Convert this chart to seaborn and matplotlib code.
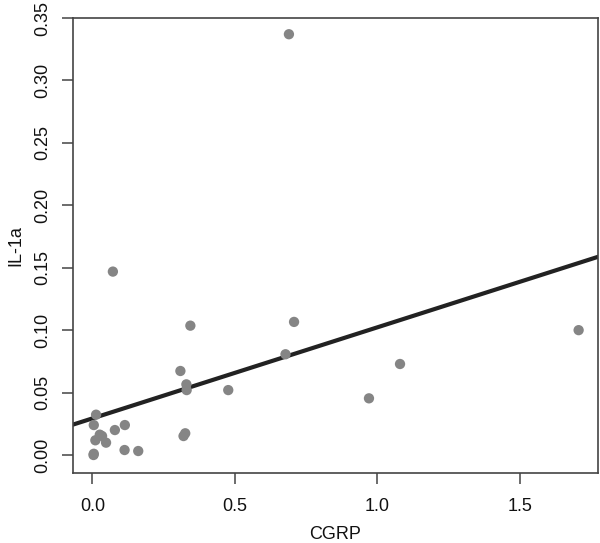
import matplotlib
matplotlib.use("Agg")
import matplotlib.pyplot as plt
import seaborn as sns
import pandas as pd

# values
cgrp = [0.013, 0.005, 0.026, 0.034, 0.0105, 0.048, 0.079, 0.114, 0.113, 0.161,
        0.005, 0.004, 0.326, 0.320, 0.309, 0.330, 0.331, 0.477, 0.708, 0.678,
        1.080, 0.971, 0.072, 0.344, 1.707, 0.690]
il1a = [0.0323, 0.024, 0.0163, 0.0152, 0.0118, 0.0099, 0.020, 0.024, 0.004, 0.0032,
        0.001, 0.0, 0.0174, 0.0152, 0.0673, 0.0566, 0.052, 0.052, 0.1066, 0.0807,
        0.0729, 0.0454, 0.1469, 0.1036, 0.100, 0.337]

x_ticks = [0.0, 0.5, 1.0, 1.5]
y_ticks = [0.00, 0.05, 0.10, 0.15, 0.20, 0.25, 0.30, 0.35]

df = pd.DataFrame({"CGRP": cgrp, "IL-1a": il1a})

sns.set_theme(style="white")
plt.rcParams["font.family"] = ["Liberation Sans", "DejaVu Sans"]

fig = plt.figure(figsize=(6.0, 5.43), dpi=100)
ax = fig.add_axes([73 / 600, 70 / 543, 525 / 600, 455 / 543])

sns.scatterplot(data=df, x="CGRP", y="IL-1a", ax=ax, color="#858585",
                s=55, edgecolor="none", zorder=3)
ax.set_xlim(-0.068, 1.775)
ax.set_ylim(-0.0144, 0.35)
sns.regplot(data=df, x="CGRP", y="IL-1a", ax=ax, scatter=False, ci=None,
            truncate=False, color="#222222", line_kws={"linewidth": 3})

ax.set_xlim(-0.068, 1.775)
ax.set_ylim(-0.0144, 0.35)
ax.set_xticks(x_ticks)
ax.set_xticklabels([f"{v:.1f}" for v in x_ticks])
ax.set_yticks(y_ticks)
ax.set_yticklabels([f"{v:.2f}" for v in y_ticks])

for side in ["left", "bottom", "top", "right"]:
    ax.spines[side].set_visible(True)
    ax.spines[side].set_color("#444444")
    ax.spines[side].set_linewidth(1.2)

ax.tick_params(axis="both", direction="out", length=8, width=1.1,
               color="#444444", labelsize=13, labelcolor="#111111",
               bottom=True, left=True)
ax.tick_params(axis="x", pad=10)
ax.tick_params(axis="y", pad=8, labelrotation=90)
for lab in ax.get_yticklabels():
    lab.set_va("center")

ax.set_xlabel("CGRP", fontsize=13, color="#111111", labelpad=8)
ax.set_ylabel("IL-1a", fontsize=13, color="#111111", labelpad=7)
ax.grid(False)

fig.savefig("out.png", dpi=100)
